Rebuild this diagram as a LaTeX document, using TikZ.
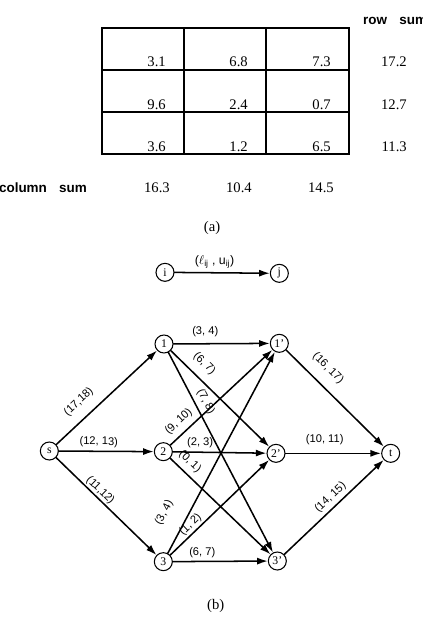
\documentclass[tikz,border=0pt]{standalone}
\usepackage{fontspec}
\setmainfont{Liberation Serif}
\newfontfamily\labfont{Liberation Sans}
\usetikzlibrary{arrows.meta}

\begin{document}
\begin{tikzpicture}[line cap=round, >={Latex[length=3.2mm,width=2.1mm]},
  every node/.style={font=\fontsize{12.5}{14}\selectfont},
  num/.style={anchor=base east, inner sep=0pt},
  head/.style={inner sep=0pt, font=\labfont\bfseries\fontsize{11.5}{13}\selectfont},
  vert/.style={draw, circle, line width=0.9pt, minimum size=0.54cm, inner sep=0pt,
    font=\fontsize{10}{11}\selectfont},
  arc/.style={->, line width=1.3pt},
  flow/.style={sloped, inner sep=0.5pt, font=\labfont\fontsize{9.5}{11}\selectfont}]

\useasboundingbox (0,0) rectangle (12.66,-19.17);

% (a) the 3x3 table with its row and column sums
\draw[line width=1.5pt] (3.06,-0.84) rectangle (10.47,-4.62);
\draw[line width=1.5pt] (5.52,-0.84) -- (5.52,-4.62) (7.98,-0.84) -- (7.98,-4.62);
\draw[line width=1.5pt] (3.06,-2.1) -- (10.47,-2.1) (3.06,-3.36) -- (10.47,-3.36);
\foreach \a/\b/\c/\rs [count=\r] in {3.1/6.8/7.3/17.2, 9.6/2.4/0.7/12.7, 3.6/1.2/6.5/11.3} {
  \node[num] (c\r1) at (4.98,{-0.75-1.26*\r}) {\a};
  \node[num] (c\r2) at (7.44,{-0.75-1.26*\r}) {\b};
  \node[num] (c\r3) at (9.93,{-0.75-1.26*\r}) {\c};
  \node[num] (rs\r) at (12.21,{-0.75-1.26*\r}) {\rs};
}
\node[head, anchor=base west] (rowsum) at (10.89,-0.75) {row\hspace{0.9em}sum};
\node[head, anchor=base east] (colsum) at (2.61,-5.76) {column\hspace{0.9em}sum};
\node[num] (cs1) at (5.1,-5.78) {16.3};
\node[num] (cs2) at (7.56,-5.78) {10.4};
\node[num] (cs3) at (10.02,-5.78) {14.5};
\node (capa) at (6.36,-6.84) {(a)};

% legend arc
\node[vert] (i) at (4.95,-8.17) {i};
\node[vert] (j) at (8.38,-8.2) {j};
\draw[arc] (i) -- node[flow, above=0.1cm, pos=0.42, font=\labfont\fontsize{10.5}{12}\selectfont]
  {($\ell$\textsubscript{ij} , u\textsubscript{ij})} (j);

% (b) the network: source, row nodes, column nodes, sink
\node[vert] (s) at (1.48,-13.53) {s};
\node[vert] (n1) at (4.92,-10.32) {1};
\node[vert] (n2) at (4.9,-13.55) {2};
\node[vert] (n3) at (4.9,-16.85) {3};
\node[vert] (p1) at (8.38,-10.3) {1'};
\node[vert] (p2) at (8.28,-13.6) {2'};
\node[vert] (p3) at (8.32,-16.83) {3'};
\node[vert] (t) at (11.72,-13.6) {t};

\draw[arc] (s) -- node[flow, above=0.28cm, pos=0.33] {(17,18)} (n1);
\draw[arc] (s) -- node[flow, above=0.08cm, pos=0.42] {(12, 13)} (n2);
\draw[arc] (s) -- node[flow, above=0.02cm, pos=0.39] {(11,12)} (n3);

\draw[arc] (n1) -- node[flow, above=0.17cm, pos=0.33] {(3, 4)} (p1);
\draw[arc] (n1) -- node[flow, above=0.23cm, pos=0.24] {(6, 7)} (p2);
\draw[arc] (n1) -- node[flow, above=0.11cm, pos=0.27] {(7, 8)} (p3);
\draw[arc] (n2) -- node[flow, above=0.15cm, pos=0.16] {(9, 10)} (p1);
\draw[arc] (n2) -- node[flow, above=0.09cm, pos=0.29] {(2, 3)} (p2);
\draw[arc] (n2) -- node[flow, above=0.14cm, pos=0.12] {(0, 1)} (p3);
\draw[arc] (n3) -- node[flow, above=0.47cm, pos=0.15] {(3, 4)} (p1);
\draw[arc] (n3) -- node[flow, above=0.04cm, pos=0.26] {(1, 2)} (p2);
\draw[arc] (n3) -- node[flow, above=0.08cm, pos=0.31] {(6, 7)} (p3);

\draw[arc] (p1) -- node[flow, above=0.3cm, pos=0.31] {(16, 17)} (t);
\draw[arc] (p2) -- node[flow, above=0.23cm, pos=0.41] {(10, 11)} (t);
\draw[arc] (p3) -- node[flow, above=0.09cm, pos=0.53] {(14, 15)} (t);

\node (capb) at (6.47,-18.18) {(b)};

\end{tikzpicture}
\end{document}
